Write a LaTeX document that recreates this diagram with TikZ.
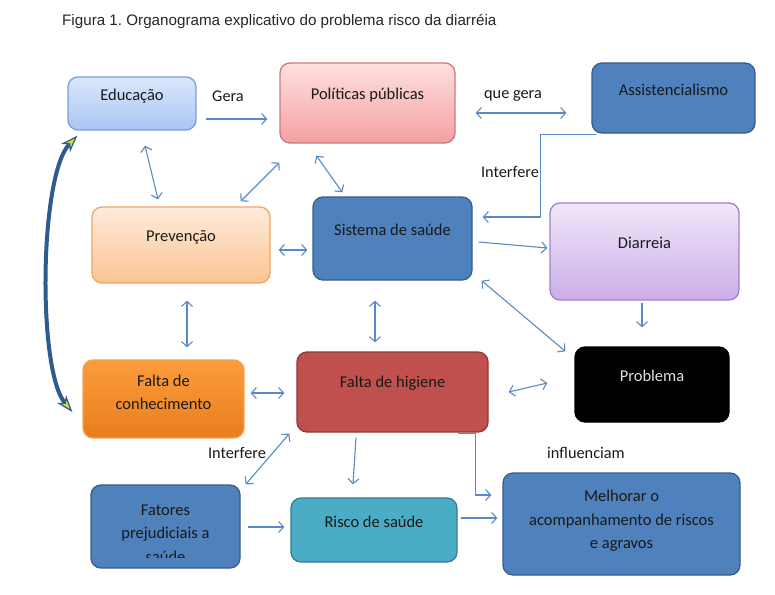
\documentclass[tikz,border=0pt]{standalone}
\usepackage{fontspec}
\setmainfont{Carlito}
\newfontfamily\titlefont{Liberation Sans}
\usetikzlibrary{arrows.meta}
\frenchspacing
\definecolor{arrowc}{HTML}{5A8AC6}
\definecolor{blueF}{HTML}{4F81BD}
\definecolor{blueD}{HTML}{385D8A}
\definecolor{redF}{HTML}{C0504D}
\definecolor{redD}{HTML}{8C3836}
\definecolor{tealF}{HTML}{4BACC6}
\definecolor{tealD}{HTML}{357D91}
\definecolor{curveC}{HTML}{2F5A8C}
\definecolor{tipC}{HTML}{CBDB4C}
\tikzset{
  box/.style={rounded corners=10pt, inner sep=0pt, line width=1.3pt},
  txt/.style={inner sep=0pt, align=center, font=\fontsize{16.5}{23.5}\selectfont, text=black!90},
  lbl/.style={inner sep=0pt, font=\fontsize{16.3}{20}\selectfont, text=black!90},
  conn/.style={draw=arrowc, line width=1.1pt, -{Straight Barb[length=5pt,width=11pt]}},
  bconn/.style={draw=arrowc, line width=1.1pt, {Straight Barb[length=5pt,width=11pt]}-{Straight Barb[length=5pt,width=11pt]}},
  bigtip/.tip={Stealth[length=17pt,width=12pt,inset=5pt,fill=tipC,line width=1.2pt]},
}
\begin{document}
\frenchspacing
\begin{tikzpicture}[x=1pt,y=-1pt]
\useasboundingbox[fill=white] (0,0) rectangle (775,594);
% title
\node[anchor=west, inner sep=0pt, font=\titlefont\fontsize{15.2}{18}\selectfont, text=black!85] (title) at (62,21) {Figura 1. Organograma explicativo do problema risco da diarréia};
% boxes
\node[box, top color={rgb,255:red,219;green,231;blue,252}, bottom color={rgb,255:red,169;green,197;blue,243}, draw={rgb,255:red,122;green,159;blue,214}, minimum width=128pt, minimum height=53pt] (edu) at (132,103.5) {};
\node[txt] (edut) at (132,96) {Educação};
\node[box, top color={rgb,255:red,253;green,224;blue,224}, bottom color={rgb,255:red,245;green,160;blue,160}, draw={rgb,255:red,201;green,122;blue,122}, minimum width=175pt, minimum height=80pt] (pol) at (367.5,103) {};
\node[txt] (polt) at (367.5,95) {Políticas públicas};
\node[box, fill=blueF, draw=blueD, minimum width=163pt, minimum height=70pt] (ass) at (673.5,98) {};
\node[txt] (asst) at (673.5,90) {Assistencialismo};
\node[box, top color={rgb,255:red,253;green,235;blue,220}, bottom color={rgb,255:red,251;green,196;blue,146}, draw={rgb,255:red,240;green,165;blue,100}, minimum width=178pt, minimum height=76pt] (pre) at (181,245) {};
\node[txt] (pret) at (181,237) {Prevenção};
\node[box, fill=blueF, draw=blueD, minimum width=159pt, minimum height=83pt] (sis) at (392.5,238.5) {};
\node[txt] (sist) at (392.5,230) {Sistema de saúde};
\node[box, top color={rgb,255:red,240;green,231;blue,248}, bottom color={rgb,255:red,203;green,174;blue,234}, draw={rgb,255:red,160;green,130;blue,195}, minimum width=189pt, minimum height=97pt] (dia) at (644.5,251.5) {};
\node[txt] (diat) at (644.5,243) {Diarreia};
\node[box, fill=black, draw=black, minimum width=154pt, minimum height=75pt] (pro) at (652,384.5) {};
\node[txt, text=black!12] (prot) at (652,376) {Problema};
\node[box, top color={rgb,255:red,252;green,156;blue,60}, bottom color={rgb,255:red,232;green,126;blue,30}, draw={rgb,255:red,240;green,165;blue,90}, minimum width=161pt, minimum height=78pt] (fco) at (163.5,399) {};
\node[txt] (fcot) at (163.5,392.5) {Falta de\\conhecimento};
\node[box, fill=redF, draw=redD, minimum width=191pt, minimum height=80pt] (fhi) at (392.5,392) {};
\node[txt] (fhit) at (392.5,383) {Falta de higiene};
\node[box, fill=blueF, draw=blueD, minimum width=149pt, minimum height=83pt] (fat) at (165.5,526.5) {};
\begin{scope}
\clip (91,485) rectangle (240,557.5);
\node[txt] (fatt) at (165.5,533.5) {Fatores\\prejudiciais a\\saúde};
\end{scope}
\node[box, fill=tealF, draw=tealD, minimum width=166pt, minimum height=64pt] (ris) at (374,530) {};
\node[txt] (rist) at (374,522) {Risco de saúde};
\node[box, fill=blueF, draw=blueD, minimum width=237pt, minimum height=102pt] (mel) at (621.5,524) {};
\node[txt] (melt) at (621.5,521) {Melhorar o\\acompanhamento de riscos\\e agravos};
% labels
\node[lbl] (lgera) at (228,96) {Gera};
\node[lbl] (lque) at (513,96) {que gera};
\node[lbl] (lint1) at (510,172) {Interfere};
\node[lbl] (lint2) at (237,453) {Interfere};
\node[lbl] (linf) at (586,453) {influenciam};
% connectors
\draw[conn] ([xshift=9pt,yshift=-15.5pt]edu.east) -- ([xshift=-12pt,yshift=-16pt]pol.west);
\draw[bconn] ([xshift=20pt,yshift=-10pt]pol.east) -- ([xshift=-25pt,yshift=-15pt]ass.west);
\draw[conn] ([xshift=5pt,yshift=-1pt]ass.south west) -- ++(-56,0) |- ([xshift=10pt,yshift=21.5pt]sis.east);
\draw[bconn] ([xshift=13pt,yshift=-15pt]edu.south) -- ([xshift=-23pt,yshift=7pt]pre.north);
\draw[bconn] ([yshift=-19pt]pol.south west) -- ([xshift=-30pt,yshift=5pt]pre.north east);
\draw[bconn] ([xshift=37pt,yshift=-12pt]pol.south west) -- ([xshift=30pt,yshift=4pt]sis.north west);
\draw[bconn] ([xshift=8pt,yshift=-5pt]pre.east) -- ([xshift=-5pt,yshift=-11.5pt]sis.west);
\draw[conn] ([xshift=6pt,yshift=-3.5pt]sis.east) -- ([xshift=-2pt,yshift=3.5pt]dia.west);
\draw[conn] ([xshift=-2.5pt,yshift=-2pt]dia.south) -- ([xshift=-10pt,yshift=19pt]pro.north);
\draw[bconn] ([xshift=9pt]sis.south east) -- ([xshift=-9pt,yshift=-5pt]pro.north west);
\draw[bconn] ([xshift=6pt,yshift=-17pt]pre.south) -- ([xshift=23.5pt,yshift=12pt]fco.north);
\draw[bconn] ([xshift=-17.5pt,yshift=-20pt]sis.south) -- ([xshift=-17.5pt,yshift=9pt]fhi.north);
\draw[bconn] ([xshift=6pt,yshift=6pt]fco.east) -- ([xshift=-12pt,yshift=-1pt]fhi.west);
\draw[bconn] ([xshift=20pt]fhi.east) -- ([xshift=-27pt,yshift=1.5pt]pro.west);
\draw[bconn] ([xshift=5pt]fat.north east) -- ([xshift=-7pt,yshift=-1pt]fhi.south west);
\draw[conn] ([xshift=-36.5pt,yshift=-5pt]fhi.south) -- ([xshift=-21pt,yshift=13pt]ris.north);
\draw[conn] ([xshift=-31pt,yshift=-1pt]fhi.south east) -- ++(18,0) |- ([xshift=-11pt,yshift=29pt]mel.west);
\draw[conn] ([xshift=7pt,yshift=-0.5pt]fat.east) -- ([xshift=-6pt,yshift=3pt]ris.west);
\draw[conn] ([xshift=3pt,yshift=12pt]ris.east) -- ([xshift=-5pt,yshift=6pt]mel.west);
% big curved arrow
\draw[draw=curveC, line width=4pt, {bigtip}-{bigtip}]
  ([xshift=10pt,yshift=-5pt]edu.south west) .. controls ([xshift=-28pt,yshift=-45pt]edu.south west) and ([xshift=-45pt,yshift=29pt]fco.west) .. ([xshift=-10pt,yshift=-13pt]fco.west);
\end{tikzpicture}
\end{document}
